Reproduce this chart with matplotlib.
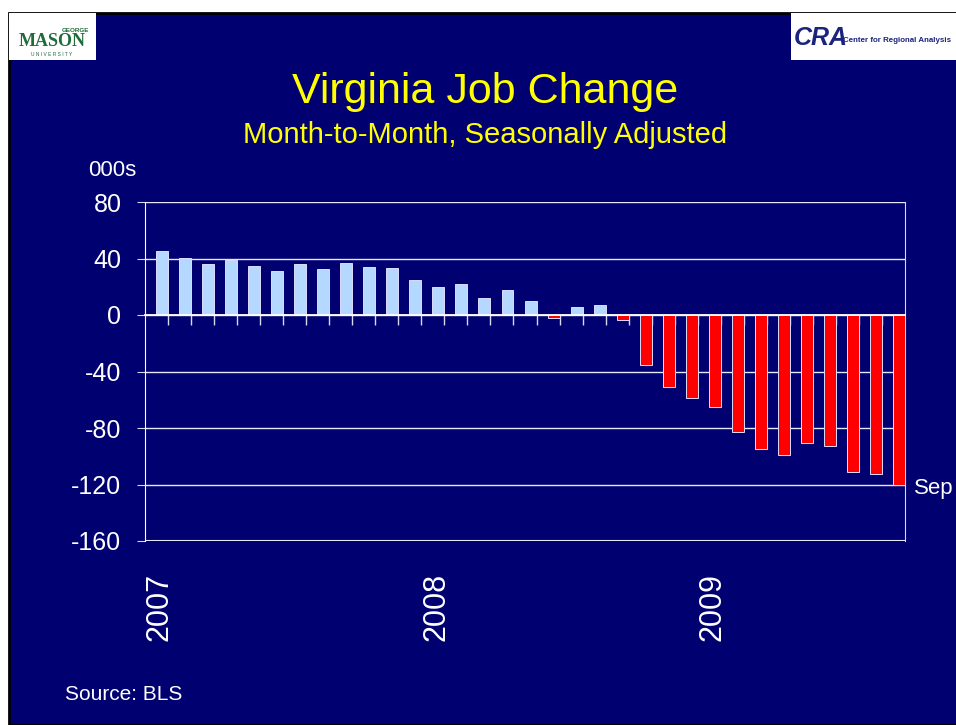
import numpy as np
import matplotlib
matplotlib.use('Agg')
import matplotlib.pyplot as plt
from matplotlib.patches import Rectangle
import matplotlib.transforms as mtransforms

plt.rcParams['font.family'] = ['Liberation Sans', 'DejaVu Sans']

# ── Data: monthly job change, thousands (Jan 2007 .. Sep 2009) ──
MONTHS = ['Jan 07', 'Feb 07', 'Mar 07', 'Apr 07', 'May 07', 'Jun 07', 'Jul 07', 'Aug 07',
          'Sep 07', 'Oct 07', 'Nov 07', 'Dec 07',
          'Jan 08', 'Feb 08', 'Mar 08', 'Apr 08', 'May 08', 'Jun 08', 'Jul 08', 'Aug 08',
          'Sep 08', 'Oct 08', 'Nov 08', 'Dec 08',
          'Jan 09', 'Feb 09', 'Mar 09', 'Apr 09', 'May 09', 'Jun 09', 'Jul 09', 'Aug 09',
          'Sep 09']
JOB_CHANGE = [45.5, 40.1, 36.3, 38.7, 34.4, 30.9, 35.9, 32.8, 36.6, 34.0, 33.0, 24.8,
              19.6, 22.2, 11.8, 17.5, 9.8, -2.3, 5.8, 7.0, -3.4, -35.3, -51.3, -58.6,
              -65.2, -82.7, -94.7, -99.2, -90.7, -92.6, -110.8, -112.9, -120.7]
YEAR_LABELS = ['2007', '2008', '2009']
YEAR_POS = [0, 12, 24]
Y_TICKS = [80, 40, 0, -40, -80, -120, -160]

NAVY = '#000070'
YELLOW = '#ffff00'
LIGHTBLUE = '#b4d8ff'
RED = '#ff0000'

W, H = 956, 725
fig = plt.figure(figsize=(W / 100, H / 100), dpi=100, facecolor='white')

# slide background with black edge
fig.patches.append(Rectangle((9 / W, 0), 1, (H - 13) / H, transform=fig.transFigure,
                             facecolor=NAVY, edgecolor='black', linewidth=2, zorder=0))

# logos (white boxes with text)
fig.patches.append(Rectangle((9 / W, (H - 60) / H), 87 / W, 47 / H, transform=fig.transFigure,
                             facecolor='white', edgecolor='none', zorder=1))
fig.text(75 / W, 1 - 30 / H, 'GEORGE', color='#1f6b3a', fontsize=4.5, fontweight='bold',
         ha='center', va='center')
fig.text(52 / W, 1 - 42 / H, 'MASON', color='#1f6b3a', fontsize=13, fontweight='bold',
         family='Liberation Serif', ha='center', va='center')
fig.text(52 / W, 1 - 55 / H, 'U N I V E R S I T Y', color='#1f6b3a', fontsize=3.5,
         ha='center', va='center')
fig.patches.append(Rectangle((791 / W, (H - 60) / H), 170 / W, 47 / H, transform=fig.transFigure,
                             facecolor='white', edgecolor='none', zorder=1))
fig.text(794 / W, 1 - 38 / H, 'CRA', color='#1a237e', fontsize=18, fontweight='bold',
         fontstyle='italic', ha='left', va='center')
fig.text(843 / W, 1 - 40 / H, 'Center for Regional Analysis', color='#1a237e', fontsize=5.7,
         fontweight='bold', ha='left', va='center')

# titles
fig.text(485 / W, 1 - 92 / H, 'Virginia Job Change', color=YELLOW, fontsize=31,
         ha='center', va='center')
fig.text(485 / W, 1 - 135 / H, 'Month-to-Month, Seasonally Adjusted', color=YELLOW,
         fontsize=21, ha='center', va='center')
fig.text(112 / W, 1 - 170 / H, '000s', color='white', fontsize=16, ha='center', va='center')
fig.text(65 / W, 1 - 695 / H, 'Source: BLS', color='white', fontsize=15, ha='left', va='center')

# ── chart ──
ax = fig.add_axes([145 / W, (H - 541) / H, 760 / W, 339 / H])
ax.set_zorder(3)
ax.set_facecolor('none')

x = np.arange(len(JOB_CHANGE))
vals = np.array(JOB_CHANGE)
colors = [LIGHTBLUE if v >= 0 else RED for v in vals]
ax.bar(x + 0.24, vals, width=0.52, color=colors, edgecolor='#dcdcff', linewidth=0.7, zorder=3)

ax.set_xlim(-0.5, len(vals) - 0.5)
ax.set_ylim(-160, 80)
ax.set_yticks(Y_TICKS)
ax.set_yticklabels([str(t) for t in Y_TICKS])
ax.yaxis.grid(True, color='#e6e6ff', linewidth=1)
ax.set_axisbelow(True)

ax.spines['bottom'].set_position(('data', 0))
ax.spines['bottom'].set_color('white')
ax.spines['bottom'].set_linewidth(1.3)
ax.spines['bottom'].set_zorder(4)
ax.spines['left'].set_color('white')
ax.spines['right'].set_color('#d8d8f0')
ax.spines['top'].set_visible(False)
ax.axhline(-160, color='#e6e6ff', linewidth=1.5)

ax.set_xticks(x[:-1] + 0.5)
ax.set_xticklabels([])
ax.tick_params(axis='x', direction='out', length=7, color='#d8d8f0', width=1)
ax.tick_params(axis='y', direction='out', length=6, color='#d8d8f0', labelcolor='white',
               labelsize=18, pad=11)

# year labels under the plot
trans = mtransforms.blended_transform_factory(ax.transData, ax.transAxes)
for pos, lab in zip(YEAR_POS, YEAR_LABELS):
    ax.text(pos + 0.15, -0.095, lab, transform=trans, rotation=90, ha='center', va='top',
            color='white', fontsize=22)

ax.text(len(vals) - 0.1, -123, 'Sep', color='white', fontsize=16, ha='left', va='center',
        clip_on=False)

fig.savefig('out.png', dpi=100, facecolor=fig.get_facecolor())
